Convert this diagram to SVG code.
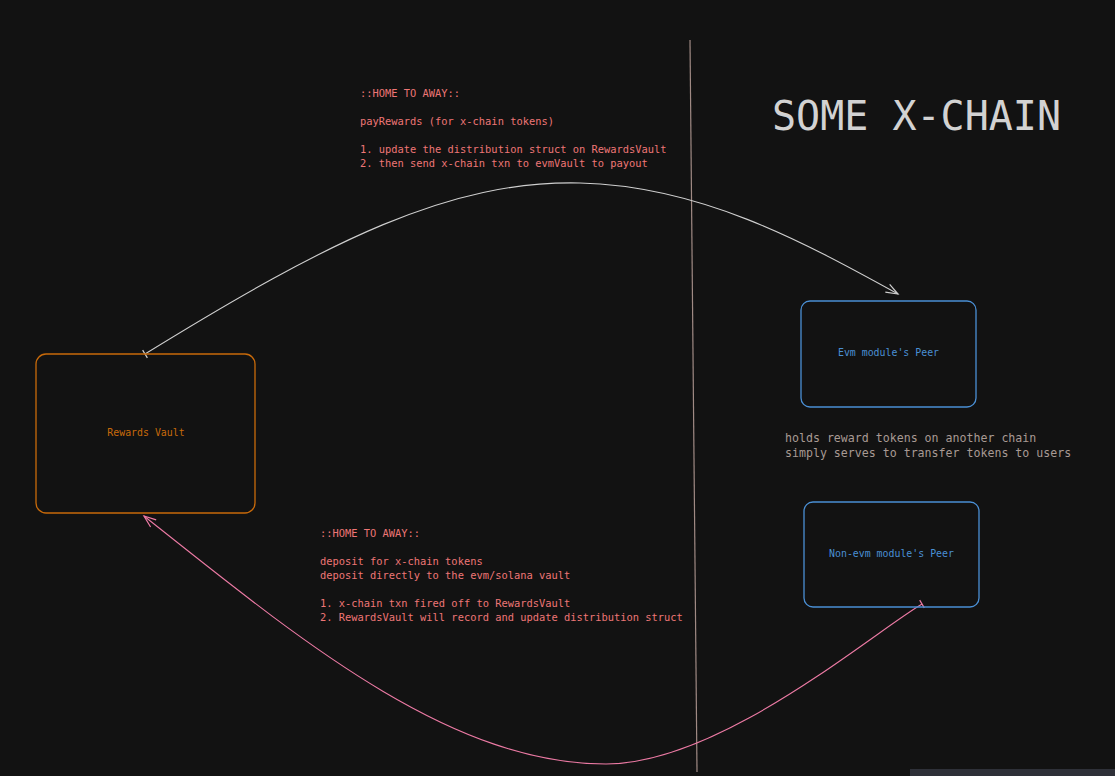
<svg xmlns="http://www.w3.org/2000/svg" width="1115" height="776" viewBox="0 0 1115 776">
<style>
.mono{font-family:"DejaVu Sans Mono","Liberation Mono",monospace}
.note{fill:#ee7676;font-size:10.4px}
.box{fill:none;stroke-width:1.3}
.lbl{font-size:9.9px;text-anchor:middle}
.blue{stroke:#4a8fd4}
.bluet{fill:#4a8fd4}
</style>
<defs>
<marker id="arrW" viewBox="-14 -8 16 16" refX="0" refY="0" markerWidth="16" markerHeight="16" markerUnits="userSpaceOnUse" orient="auto">
<path d="M-12,-4.5 L0,0 L-12,4.5" fill="none" stroke="#cfcfcf" stroke-width="1.2"/>
</marker>
<marker id="barW" viewBox="-6 -6 12 12" refX="0" refY="0" markerWidth="12" markerHeight="12" markerUnits="userSpaceOnUse" orient="auto">
<path d="M0,-4.5 L0,4.5" stroke="#cfcfcf" stroke-width="1.2"/>
</marker>
<marker id="arrP" viewBox="-14 -8 16 16" refX="0" refY="0" markerWidth="16" markerHeight="16" markerUnits="userSpaceOnUse" orient="auto">
<path d="M-12,-4.5 L0,0 L-12,4.5" fill="none" stroke="#ec7aa4" stroke-width="1.2"/>
</marker>
<marker id="barP" viewBox="-6 -6 12 12" refX="0" refY="0" markerWidth="12" markerHeight="12" markerUnits="userSpaceOnUse" orient="auto">
<path d="M0,-4.5 L0,4.5" stroke="#ec7aa4" stroke-width="1.2"/>
</marker>
</defs>
<rect x="0" y="0" width="1115" height="776" fill="#121212"/>
<rect x="910" y="769" width="205" height="7" fill="#2e3038"/>

<g id="divider">
<line x1="690" y1="40" x2="697" y2="772" stroke="#a08a84" stroke-width="1.2"/>
</g>

<g id="title">
<text class="mono" x="772" y="130" font-size="40" fill="#d2d2d2">SOME X-CHAIN</text>
</g>

<g id="connectors" fill="none">
<path d="M145,354 C330,240 450,180 580,183 C700,186 800,240 898,294" stroke="#cfcfcf" stroke-width="1.1" marker-start="url(#barW)" marker-end="url(#arrW)"/>
<path d="M922,604 C870,635 720,764 606,764 C450,764 300,640 144,516" stroke="#ec7aa4" stroke-width="1.1" marker-start="url(#barP)" marker-end="url(#arrP)"/>
</g>

<g id="rewards-vault">
<rect class="box" x="36" y="354" width="219" height="159" rx="10" stroke="#c86a0a"/>
<text class="mono lbl" x="146" y="436" fill="#c86a0a">Rewards Vault</text>
</g>

<g id="evm-peer">
<rect class="box blue" x="801" y="301" width="175" height="106" rx="9"/>
<text class="mono lbl bluet" x="888.5" y="356">Evm module's Peer</text>
</g>

<g id="nonevm-peer">
<rect class="box blue" x="804" y="502" width="175" height="105" rx="9"/>
<text class="mono lbl bluet" x="891.5" y="557">Non-evm module's Peer</text>
</g>

<g id="note-top" class="mono note">
<text x="360" y="97">::HOME TO AWAY::</text>
<text x="360" y="125">payRewards (for x-chain tokens)</text>
<text x="360" y="153">1. update the distribution struct on RewardsVault</text>
<text x="360" y="167">2. then send x-chain txn to evmVault to payout</text>
</g>

<g id="note-bottom" class="mono note">
<text x="320" y="537">::HOME TO AWAY::</text>
<text x="320" y="565">deposit for x-chain tokens</text>
<text x="320" y="579">deposit directly to the evm/solana vault</text>
<text x="320" y="607">1. x-chain txn fired off to RewardsVault</text>
<text x="320" y="621">2. RewardsVault will record and update distribution struct</text>
</g>

<g id="note-right" class="mono" font-size="11.6" fill="#a89a94">
<text x="785" y="442">holds reward tokens on another chain</text>
<text x="785" y="457">simply serves to transfer tokens to users</text>
</g>
</svg>
